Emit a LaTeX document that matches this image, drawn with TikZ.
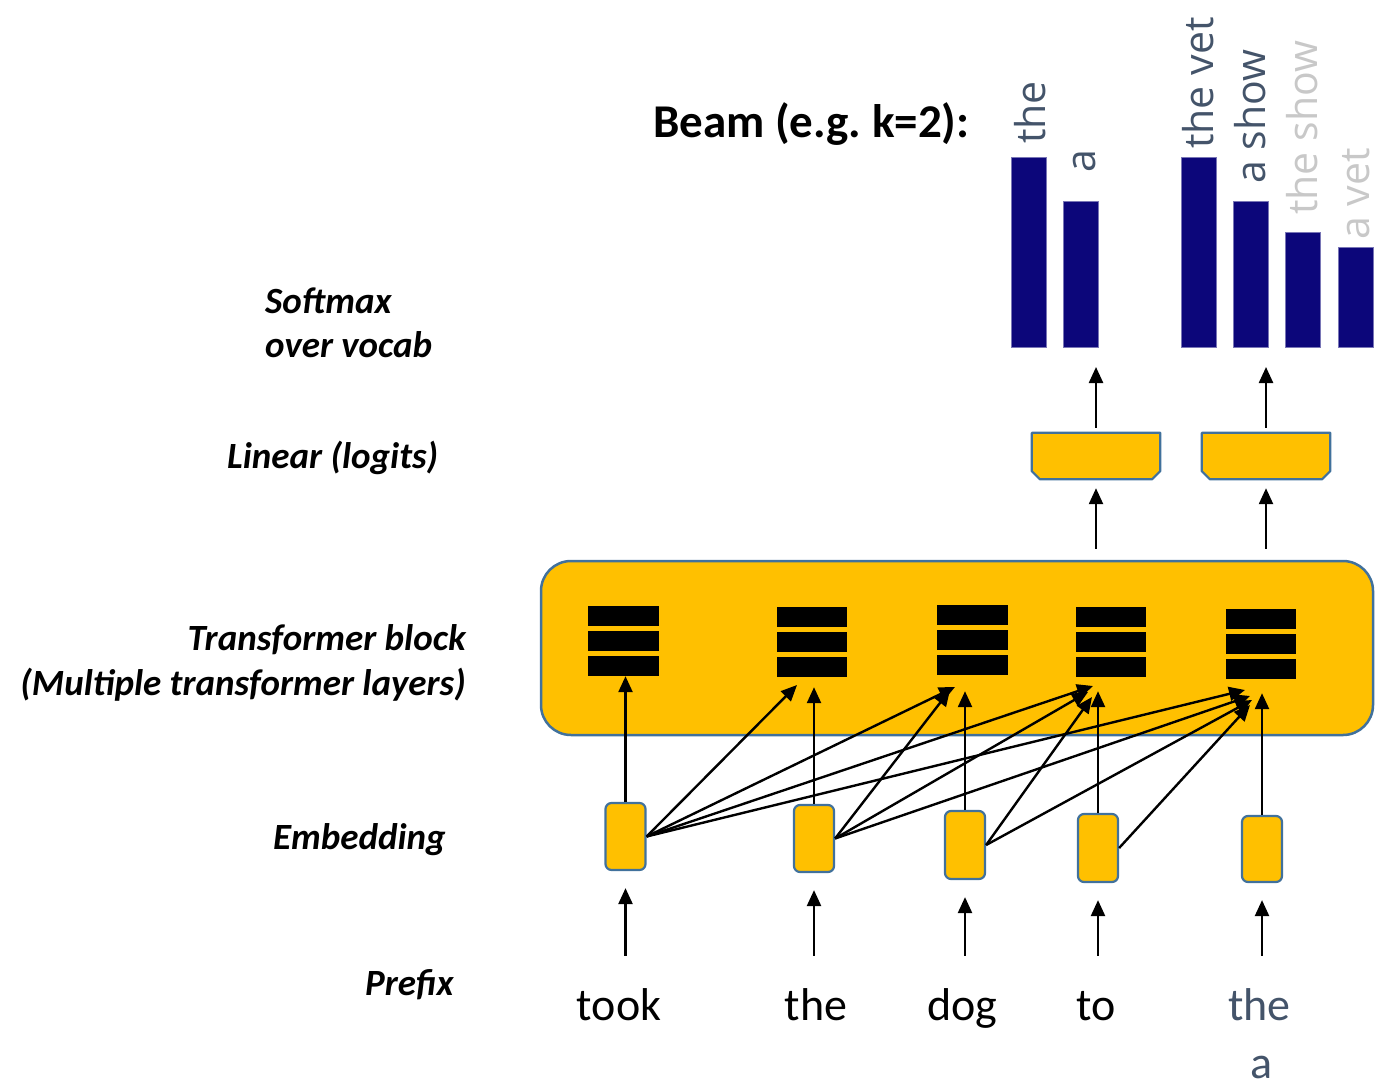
\documentclass[tikz,border=0pt]{standalone}
\usepackage{fontspec}
\setmainfont{Carlito}
\newfontfamily\beamfont{Open Sans}
\usetikzlibrary{arrows.meta}
\definecolor{gold}{HTML}{FFC000}
\definecolor{edgeblue}{HTML}{41719C}
\definecolor{barnavy}{RGB}{12,6,122}
\definecolor{slate}{HTML}{44546A}
\definecolor{faded}{HTML}{C8C8C8}

% three stacked layer bars inside a stack node
\newcommand\layerstack[1]{%
  \fill ([yshift=0pt]#1.north west) rectangle ([yshift=-20pt]#1.north east);
  \fill ([yshift=-25pt]#1.north west) rectangle ([yshift=-45pt]#1.north east);
  \fill ([yshift=-50pt]#1.north west) rectangle ([yshift=-70pt]#1.north east);
}

\begin{document}
\begin{tikzpicture}[x=1pt,y=-1pt,
  arr/.style={line width=2.4pt,-{Triangle[length=16pt,width=14pt]}},
  embbox/.style={draw=edgeblue,line width=2.2pt,fill=gold,rounded corners=6pt,
    minimum width=40pt,minimum height=67pt,inner sep=0pt},
  stackbox/.style={minimum width=70pt,minimum height=70pt,inner sep=0pt},
  linbox/.style={minimum width=128pt,minimum height=46pt,inner sep=0pt},
  linshape/.style={draw=edgeblue,line width=2.2pt,fill=gold,line join=round},
  bar/.style={fill=barnavy,draw=barnavy!55!white,line width=0.8pt,
    minimum width=35pt,inner sep=0pt,anchor=south},
  beamword/.style={font=\beamfont\fontsize{41}{49}\selectfont,inner sep=0pt,
    text depth=0pt,anchor=base west,rotate=90},
  sidelabel/.style={font=\fontsize{37}{44}\selectfont\bfseries\itshape,inner sep=0pt},
  word/.style={font=\fontsize{46}{55}\selectfont,text height=32pt,text depth=10pt,
    inner sep=0pt,anchor=base},
]
\useasboundingbox (0,0) rectangle (1375,1081);

% ---------- title ----------
\node[font=\fontsize{47}{56}\selectfont\bfseries,inner sep=0pt,anchor=base west]
  (title) at (653,137) {Beam (e.g.\ k=2):};

% ---------- side labels ----------
\node[sidelabel,anchor=base west] (lsoft1) at (265,313) {Softmax};
\node[sidelabel,anchor=base west] (lsoft2) at (265,357) {over vocab};
\node[sidelabel,anchor=base west] (llin) at (227,468) {Linear (logits)};
\node[sidelabel,anchor=base east] (ltf1) at (466,650) {Transformer block};
\node[sidelabel,anchor=base east] (ltf2) at (466,695) {(Multiple transformer layers)};
\node[sidelabel,anchor=base west] (lemb) at (273,849) {Embedding};
\node[sidelabel,anchor=base west] (lpre) at (365,995) {Prefix};

% ---------- softmax bars ----------
\node[bar,minimum height=190pt] (bar1) at (1029,348) {};
\node[bar,minimum height=146pt] (bar2) at (1080.5,348) {};
\node[bar,minimum height=190pt] (bar3) at (1199,348) {};
\node[bar,minimum height=146pt] (bar4) at (1250.5,348) {};
\node[bar,minimum height=115pt] (bar5) at (1302.5,348) {};
\node[bar,minimum height=100pt] (bar6) at (1355.5,348) {};

\node[beamword,text=slate] (c1) at (1045,144) {the};
\node[beamword,text=slate] (c2) at (1095,173) {a};
\node[beamword,text=slate] (c3) at (1213,149) {the vet};
\node[beamword,text=slate] (c4) at (1265,184) {a show};
\node[beamword,text=faded] (c5) at (1317,215) {the show};
\node[beamword,text=faded] (c6) at (1369,240) {a vet};

% ---------- linear (logits) heads ----------
\node[linbox] (l1) at (1096,456) {};
\node[linbox] (l2) at (1266,456) {};
\foreach \l in {l1,l2}{
  \draw[linshape] (\l.north west) -- (\l.north east)
    -- ([yshift=8pt]\l.south east) -- ([xshift=-8pt]\l.south east)
    -- ([xshift=8pt]\l.south west) -- ([yshift=8pt]\l.south west) -- cycle;
}

% ---------- transformer block ----------
\node[draw=edgeblue,fill=gold,line width=2.5pt,rounded corners=30pt,
  minimum width=832pt,minimum height=174pt,inner sep=0pt] (tb) at (957,648) {};

\node[stackbox] (s1) at (623.5,641) {};
\node[stackbox] (s2) at (812,642) {};
\node[stackbox] (s3) at (972.5,640) {};
\node[stackbox] (s4) at (1111,642) {};
\node[stackbox] (s5) at (1261,644) {};
\foreach \s in {s1,s2,s3,s4,s5}{\layerstack{\s}}

% ---------- embeddings ----------
\node[embbox] (e1) at (625.5,836.5) {};
\node[embbox] (e2) at (814,838.5) {};
\node[embbox,minimum height=68pt] (e3) at (965,845) {};
\node[embbox,minimum height=68pt] (e4) at (1098,848) {};
\node[embbox,minimum height=66pt] (e5) at (1262,849) {};

% ---------- prefix words ----------
\node[word] (w1) at (619,1020) {took};
\node[word] (w2) at (816,1020) {the};
\node[word] (w3) at (962.5,1020) {dog};
\node[word] (w4) at (1096,1020) {to};
\node[word,text=slate] (w5) at (1259.5,1020) {the};
\node[word,text=slate] (w6) at (1261,1078) {a};

% ---------- arrows: words -> embeddings ----------
\foreach \i in {1,...,5}{
  \draw[arr,shorten <=32pt,shorten >=17pt] (e\i.south |- w\i.north) -- (e\i.south);
}

% ---------- arrows: embeddings -> own layer stack ----------
\draw[arr] (e1.north) -- (e1.north |- s1.south);
\draw[arr,shorten >=10pt] (e2.north) -- (e2.north |- s2.south);
\draw[arr,shorten >=16pt] (e3.north) -- (e3.north |- s3.south);
\draw[arr,shorten >=14pt] (e4.north) -- (e4.north |- s4.south);
\draw[arr,shorten >=14pt] (e5.north) -- (e5.north |- s5.south);

% ---------- attention to earlier positions ----------
\coordinate (t12) at (797,685);
\coordinate (t13) at (955,687);
\coordinate (t14) at (1093,686);
\coordinate (t15) at (1245,690);
\coordinate (t23) at (950,690);
\coordinate (t24) at (1088,692);
\coordinate (t25) at (1250,696);
\coordinate (t34) at (1092,697);
\coordinate (t35) at (1252,700);
\coordinate (t45) at (1250,705);
\foreach \t in {t12,t13,t14,t15}{\draw[arr] (e1.east) -- (\t);}
\foreach \t in {t23,t24,t25}{\draw[arr] (e2.east) -- (\t);}
\foreach \t in {t34,t35}{\draw[arr] (e3.east) -- (\t);}
\draw[arr] (e4.east) -- (t45);

% ---------- arrows: block -> heads -> softmax ----------
\draw[arr,shorten <=11pt,shorten >=9pt] (l1.south |- tb.north) -- (l1.south);
\draw[arr,shorten <=11pt,shorten >=9pt] (l2.south |- tb.north) -- (l2.south);
\draw[arr,shorten <=5pt,shorten >=19pt] (l1.north) -- (l1.north |- bar2.south);
\draw[arr,shorten <=5pt,shorten >=19pt] (l2.north) -- (l2.north |- bar4.south);
\end{tikzpicture}
\end{document}
